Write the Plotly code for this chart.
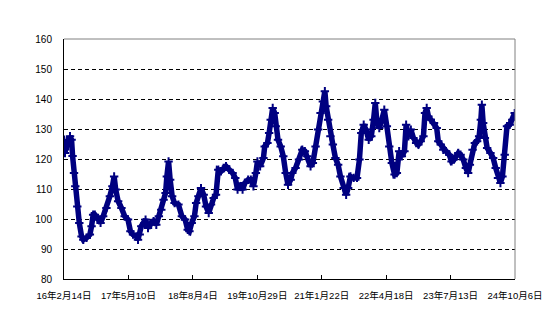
import pandas as pd
import plotly.graph_objects as go

START = "2016-02-14"
# days since 2016-02-14
days = [0, 7, 19, 30, 42, 53, 60, 70, 79, 93, 107, 123, 135, 158, 181, 193, 204, 216, 239, 256,
        274, 297, 321, 339, 351, 362, 379, 402, 425, 448, 465, 483, 506, 518, 530, 541, 571, 588,
        611, 627, 646, 664, 681, 697, 711, 720, 732, 743, 757, 774,
        801, 825, 848, 866, 878, 894, 913, 925, 941, 959, 978, 994, 1013, 1029, 1048, 1064, 1080,
        1099, 1117, 1134, 1157, 1180, 1199, 1215, 1234, 1250, 1266, 1289, 1308, 1326, 1343, 1354,
        1373, 1396, 1405, 1424, 1436, 1447, 1461, 1475, 1482, 1498, 1517, 1535, 1552, 1568, 1587,
        1598, 1621, 1645, 1668, 1686, 1703, 1726, 1742, 1761, 1779, 1796, 1812, 1826, 1835, 1849,
        1865, 1882, 1900, 1919, 1935, 1958, 1975, 1989, 2005, 2028, 2051, 2068, 2081, 2098, 2114,
        2133, 2151, 2167, 2179, 2191, 2207, 2225, 2242, 2260, 2277, 2295, 2314, 2330, 2346, 2365,
        2383, 2395, 2411, 2428, 2446, 2465, 2481, 2497, 2516, 2527, 2539, 2551, 2567, 2590, 2609,
        2620, 2637, 2655, 2674, 2697, 2713, 2730, 2743, 2760, 2776, 2795, 2813, 2829, 2841, 2860,
        2876, 2892, 2906, 2918, 2925, 2934, 2946, 2962, 2985, 3004, 3022, 3038, 3055, 3069, 3085,
        3101, 3120, 3138, 3155]
values = [126.4, 122, 125.9, 124.2, 127.6, 126.4, 121, 115.3, 110.9, 104.2, 98.7, 94.2, 93.1, 93.7,
          94.8, 97.6, 101.4, 101.4, 99.8, 98.7, 100.9, 103.7, 107.6, 110.9, 114.2, 109.8, 105.9,
          103.7, 100.9, 99.8, 95.9, 94.8, 94.2, 93.1, 94.8, 97.6, 99.8, 97, 98.7, 99.3, 98.1, 100.9,
          103.1, 106.4, 108.7, 114.2, 119.2, 113.1, 107.6, 105.3,
          104.8, 100.9, 99.8, 96.4, 95.9, 98.7, 100.9, 105.3, 107.6, 110.3, 108.1, 104.2, 102,
          104.8, 107, 108.1, 116.4, 115.9, 117, 117.6, 116.4, 115.3, 113.7, 109.8, 110.9, 109.8,
          112, 113.1, 113.1, 110.9, 115.3, 119.2, 117.6, 120.3, 124.2, 125.3, 128.7, 133.1, 137,
          135.3, 130.9, 126.4, 124.2, 120.9, 115.3, 111.4, 113.1,
          115.3, 117, 119.8, 123.1, 122.6, 120.9, 117.6, 118.7, 124.2, 129.8, 135.3, 139.2, 142.6,
          137.6, 133.1, 127.6, 124.8, 120.3, 118.1, 114.2, 110.3, 108.1, 110.3, 114.2, 113.7,
          113.7, 119.8, 128.7, 131.4, 129.8, 126.4, 127.6, 133.1, 138.7, 132, 130.3, 133.1, 136.4,
          130.9, 124.2, 118.7, 114.8, 115.3, 122.6, 120.9, 122.6,
          131.4, 127.6, 129.8, 127, 125.3, 124.8, 125.9, 127.6, 135.3, 137, 134.2, 133.1, 132,
          130.3, 125.9, 124.8, 123.1, 122.6, 121.4, 119.2, 119.8, 120.9, 122, 121.4, 119.8, 117,
          115.3, 118.1, 123.1, 125.3, 125.9, 127.6, 133.1, 138.1, 132, 127, 123.7, 122, 120.3, 117,
          113.7, 112, 114.2, 121.4, 130.9, 131.4, 133.1, 135.3]

tick_step_days = 451
tick_labels = ["16年2月14日", "17年5月10日", "18年8月4日", "19年10月29日",
               "21年1月22日", "22年4月18日", "23年7月13日", "24年10月6日"]
y_min, y_max, y_step = 80, 160, 10

start = pd.Timestamp(START)
dates = [start + pd.Timedelta(days=d) for d in days]
tick_dates = [start + pd.Timedelta(days=tick_step_days * i) for i in range(len(tick_labels))]

fig = go.Figure()
fig.add_trace(go.Scatter(x=dates, y=values, mode="lines+markers",
                         line=dict(color="#000080", width=5.5),
                         marker=dict(color="#000080", size=6, symbol="cross-thin",
                                     line=dict(color="#000080", width=2)),
                         showlegend=False, hoverinfo="skip"))

xfont = dict(family="Liberation Sans, Arial, Noto Sans CJK SC", size=9.5, color="#000000")
yfont = dict(family="Liberation Sans, Arial", size=10, color="#000000")
fig.update_layout(
    width=554, height=335,
    margin=dict(l=64, r=37, t=39, b=56),
    paper_bgcolor="white", plot_bgcolor="white",
    font=xfont,
    xaxis=dict(type="date", range=[tick_dates[0], tick_dates[-1]],
               tickvals=tick_dates, ticktext=tick_labels,
               showgrid=False, zeroline=False,
               showline=True, linecolor="#000000", linewidth=1,
               ticks="inside", ticklen=4, tickcolor="#000000",
               ticklabelstandoff=8, tickfont=xfont),
    yaxis=dict(range=[y_min, y_max], dtick=y_step, tick0=y_min,
               showgrid=True, gridcolor="#000000", gridwidth=1, griddash="4px,3px",
               zeroline=False, showline=True, linecolor="#000000", linewidth=1,
               ticks="", ticklabelstandoff=9, tickfont=yfont),
)
# gray frame on top and right
fig.add_shape(type="line", xref="paper", yref="paper", x0=0, x1=1, y0=1, y1=1,
              line=dict(color="#808080", width=1))
fig.add_shape(type="line", xref="paper", yref="paper", x0=1, x1=1, y0=0, y1=1,
              line=dict(color="#808080", width=1))

fig.write_html("out.html")
